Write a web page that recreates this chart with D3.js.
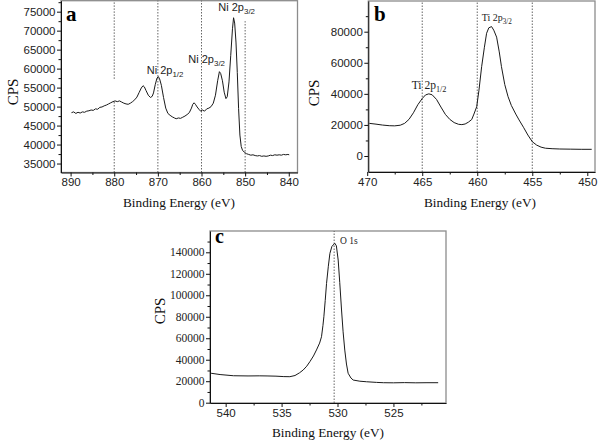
<!DOCTYPE html>
<html>
<head>
<meta charset="utf-8">
<script src="https://cdn.jsdelivr.net/npm/d3@7"></script>
<style>
  body { margin: 0; background: #fff; }
  svg { display: block; }
</style>
</head>
<body>
<div id="charts"></div>
<script>
// XPS spectra: [binding energy (eV), counts per second]
var niSpectrum = [
  [889.8,48400],[889.3,48600],[888.8,48200],[888.3,48500],[887.8,48300],[887.3,48600],
  [886.8,48500],[886.3,48800],[885.8,48900],[885.3,49100],[884.8,49000],[884.3,49400],
  [883.8,49300],[883.3,49800],[882.8,49900],[882.3,50200],[881.8,50400],[881.3,50700],
  [880.8,51000],[880.3,51300],[879.8,51500],[879.3,51300],[878.8,51500],[878.3,51200],
  [877.8,50900],[877.3,50700],[876.8,50600],[876.3,50900],[875.8,51300],[875.3,51800],
  [874.8,52500],[874.3,53700],[873.8,54900],[873.4,55500],[873.1,55200],[872.7,54200],
  [872.2,53000],[871.7,52400],[871.3,52700],[871.0,53600],[870.6,55800],[870.2,57500],
  [869.9,57900],[869.6,57300],[869.2,55600],[868.7,52400],[868.2,49600],[867.7,48200],
  [867.2,47700],[866.7,47300],[866.2,47000],[865.8,46800],[865.3,47000],[864.8,46900],
  [864.3,47200],[863.8,47500],[863.3,47900],[862.8,48400],[862.3,49600],[862.0,50600],
  [861.7,51000],[861.4,50600],[861.0,49900],[860.6,49300],[860.2,48800],[859.8,49100],
  [859.3,48800],[858.8,49400],[858.3,49600],[857.8,50000],[857.3,50900],[856.8,53000],
  [856.3,56800],[855.9,59200],[855.6,58700],[855.2,56800],[854.8,53800],[854.4,52100],
  [854.1,52600],[853.7,56500],[853.3,63500],[852.9,70500],[852.65,73400],[852.4,72000],
  [852.1,67000],[851.8,59000],[851.5,49500],[851.2,42500],[850.9,39500],[850.6,38500],
  [850.2,38000],[849.7,37600],[849.2,37400],[848.7,37200],[848.2,37300],[847.7,37100],
  [847.2,37000],[846.7,37100],[846.2,36900],[845.7,37000],[845.2,36900],[844.7,37000],
  [844.2,37200],[843.7,37100],[843.2,37300],[842.7,37200],[842.2,37300],[841.7,37200],
  [841.2,37400],[840.7,37300],[840.2,37400],[839.9,37300]
];

var tiSpectrum = [
  [469.8,21000],[469.2,20500],[468.6,19900],[468.0,19500],[467.5,19400],[467.0,19800],
  [466.6,21000],[466.2,23600],[465.8,27800],[465.4,33000],[465.0,37000],[464.7,39300],
  [464.4,40000],[464.1,39400],[463.7,36400],[463.3,31500],[462.9,26800],[462.5,23600],
  [462.1,21500],[461.7,20400],[461.4,20200],[461.1,20600],[460.8,21800],[460.5,23500],
  [460.3,27000],[460.05,31700],[459.85,42000],[459.6,57500],[459.35,70000],[459.15,79000],
  [458.95,82500],[458.7,83300],[458.5,81000],[458.24,76500],[458.0,67000],[457.8,57500],
  [457.5,46000],[457.2,38200],[456.9,32500],[456.5,27000],[456.2,23200],[455.8,18500],
  [455.4,13500],[455.0,9200],[454.6,7000],[454.2,5700],[453.8,5000],[453.2,4700],
  [452.5,4500],[451.5,4400],[450.5,4300],[449.6,4300]
];

var oSpectrum = [
  [541.3,27400],[540.5,26200],[539.3,25100],[538.0,24900],[537.0,25000],[536.3,24900],
  [535.5,24700],[534.8,24300],[534.26,24200],[533.8,25300],[533.4,27800],[533.07,30400],
  [532.75,34000],[532.47,38200],[532.15,43500],[531.88,49100],[531.6,55500],[531.43,61400],
  [531.3,72000],[531.22,80000],[531.1,95000],[530.98,111000],[530.82,127000],[530.68,139000],
  [530.5,145500],[530.24,148400],[530.1,146000],[529.94,132800],[529.8,112000],[529.64,86300],
  [529.5,66000],[529.35,49000],[529.2,36000],[529.05,27400],[528.8,23000],[528.6,21100],
  [528.0,20000],[527.4,19500],[526.5,18900],[525.9,18600],[525.0,18500],[524.0,18700],
  [523.0,18500],[522.0,18600],[521.0,18600]
];

// dotted guides: [energy, cps from, cps to] (null = plot edge)
var niGuides = [[880,null,51500],[880,57300,null],[870,null,null],[860,null,null],[850,null,72500]];
var tiGuides = [[465,null,null],[460,null,null],[455,null,null]];
var oGuides = [[530.3,null,null]];

// ticks
var niXTicks = [890,880,870,860,850,840];
var niXMinor = [885,875,865,855,845];
var niYTicks = [35000,40000,45000,50000,55000,60000,65000,70000,75000];
var niYMinor = [37500,42500,47500,52500,57500,62500,67500,72500,77500];
var tiXTicks = [470,465,460,455,450];
var tiXMinor = [467.5,462.5,457.5,452.5];
var tiYTicks = [0,20000,40000,60000,80000];
var tiYMinor = [10000,30000,50000,70000,90000];
var oXTicks = [540,535,530,525];
var oXMinor = [537.5,532.5,527.5,522.5];
var oYTicks = [0,20000,40000,60000,80000,100000,120000,140000];
var oYMinor = [10000,30000,50000,70000,90000,110000,130000,150000];

var sans = "'Liberation Sans', Arial, sans-serif";
var serif = "'Liberation Serif', 'Times New Roman', serif";

var svg = d3.select("#charts")
    .append("svg")
    .attr("width", 600)
    .attr("height", 441);

var panels = [
  {
    letter: "a", letterX: 66, letterY: 20.5,
    data: niSpectrum, guides: niGuides,
    left: 61, right: 297.5, top: 0.7, bottom: 172.5,
    xDomain: [892.2, 838.0], yDomain: [32640, 77890],
    xTicks: niXTicks, xMinor: niXMinor, yTicks: niYTicks, yMinor: niYMinor,
    tickFont: sans, yTickFont: sans, tickSize: 11.5,
    yLabel: [13, 92], xLabel: [179, 207],
    notes: [
      {x: 146.7, y: 74, main: "Ni 2p", sub: "1/2", font: sans, size: 11},
      {x: 188.3, y: 62.7, main: "Ni 2p", sub: "3/2", font: sans, size: 11},
      {x: 218.3, y: 10.7, main: "Ni 2p", sub: "3/2", font: sans, size: 11}
    ]
  },
  {
    letter: "b", letterX: 374, letterY: 20.5,
    data: tiSpectrum, guides: tiGuides,
    left: 368.3, right: 595, top: 1, bottom: 172,
    xDomain: [469.9, 449.3], yDomain: [-10300, 99760],
    xTicks: tiXTicks, xMinor: tiXMinor, yTicks: tiYTicks, yMinor: tiYMinor,
    tickFont: sans, yTickFont: sans, tickSize: 11.5,
    yLabel: [314, 93], xLabel: [480, 207],
    notes: [
      {x: 411.7, y: 89.3, main: "Ti 2p", sub: "1/2", font: serif, size: 11.5},
      {x: 481.7, y: 20.7, main: "Ti 2p", sub: "3/2", font: serif, size: 10}
    ]
  },
  {
    letter: "c", letterX: 215, letterY: 243,
    data: oSpectrum, guides: oGuides,
    left: 210, right: 446, top: 231, bottom: 403,
    xDomain: [541.4, 520.3], yDomain: [-280, 159830],
    xTicks: oXTicks, xMinor: oXMinor, yTicks: oYTicks, yMinor: oYMinor,
    tickFont: sans, yTickFont: serif, tickSize: 11.5,
    yLabel: [160, 311], xLabel: [328, 437],
    notes: [
      {x: 340, y: 244, main: "O 1s", sub: "", font: serif, size: 9.5}
    ]
  }
];

function styleAxis(ax, font, size) {
  ax.attr("font-family", font).attr("font-size", size);
  ax.selectAll("text").attr("fill", "#222");
  ax.selectAll("line").attr("stroke", "#111");
  ax.select(".domain").attr("stroke", "#111");
}

function drawPanel(p) {
  var x = d3.scaleLinear().domain(p.xDomain).range([p.left, p.right]);
  var y = d3.scaleLinear().domain(p.yDomain).range([p.bottom, p.top]);
  var g = svg.append("g");

  g.append("rect")
    .attr("x", p.left).attr("y", p.top)
    .attr("width", p.right - p.left).attr("height", p.bottom - p.top)
    .attr("fill", "none")
    .attr("stroke", "#8c8c8c")
    .attr("stroke-width", 1.3);

  g.selectAll(".guide")
    .data(p.guides)
    .enter()
    .append("line")
    .attr("x1", d => x(d[0])).attr("x2", d => x(d[0]))
    .attr("y1", d => d[1] == null ? p.bottom : y(d[1]))
    .attr("y2", d => d[2] == null ? p.top : y(d[2]))
    .attr("stroke", "#555")
    .attr("stroke-width", 0.9)
    .attr("stroke-dasharray", "1.5,1.5");

  var line = d3.line().x(d => x(d[0])).y(d => y(d[1]));
  g.append("path")
    .datum(p.data)
    .attr("d", line)
    .attr("fill", "none")
    .attr("stroke", "#1a1a1a")
    .attr("stroke-width", 1)
    .attr("stroke-linejoin", "round");

  // minor ticks first, then the labelled axis on top
  g.append("g")
    .attr("transform", "translate(0," + p.bottom + ")")
    .call(d3.axisBottom(x).tickValues(p.xMinor).tickSize(2.5).tickFormat(""))
    .call(a => a.select(".domain").remove())
    .selectAll("line").attr("stroke", "#111");
  g.append("g")
    .attr("transform", "translate(" + p.left + ",0)")
    .call(d3.axisLeft(y).tickValues(p.yMinor).tickSize(2.5).tickFormat(""))
    .call(a => a.select(".domain").remove())
    .selectAll("line").attr("stroke", "#111");

  var xAxis = g.append("g")
    .attr("transform", "translate(0," + p.bottom + ")")
    .call(d3.axisBottom(x).tickValues(p.xTicks).tickSize(4).tickSizeOuter(0)
      .tickPadding(1.5).tickFormat(d3.format("d")));
  styleAxis(xAxis, p.tickFont, p.tickSize);

  var yAxis = g.append("g")
    .attr("transform", "translate(" + p.left + ",0)")
    .call(d3.axisLeft(y).tickValues(p.yTicks).tickSize(4).tickSizeOuter(0)
      .tickPadding(1.5).tickFormat(d3.format("d")));
  styleAxis(yAxis, p.yTickFont, p.tickSize);

  g.append("text")
    .attr("x", p.xLabel[0]).attr("y", p.xLabel[1])
    .attr("text-anchor", "middle")
    .attr("font-family", serif)
    .attr("font-size", 13.3)
    .attr("fill", "#111")
    .text("Binding Energy (eV)");

  g.append("text")
    .attr("transform", "translate(" + (p.yLabel[0] + 5) + "," + p.yLabel[1] + ") rotate(-90)")
    .attr("text-anchor", "middle")
    .attr("font-family", serif)
    .attr("font-size", 15)
    .attr("fill", "#111")
    .text("CPS");

  g.append("text")
    .attr("x", p.letterX).attr("y", p.letterY)
    .attr("font-family", serif)
    .attr("font-weight", "bold")
    .attr("font-size", p.letter == "c" ? 20 : 21)
    .attr("fill", "#000")
    .text(p.letter);

  p.notes.forEach(function(n) {
    var t = g.append("text")
      .attr("x", n.x).attr("y", n.y)
      .attr("font-family", n.font)
      .attr("font-size", n.size)
      .attr("fill", "#222");
    t.append("tspan").text(n.main);
    if (n.sub) {
      t.append("tspan")
        .attr("font-size", n.size * 0.72)
        .attr("dy", 3)
        .text(n.sub);
    }
  });
}

panels.forEach(drawPanel);
</script>
</body>
</html>
